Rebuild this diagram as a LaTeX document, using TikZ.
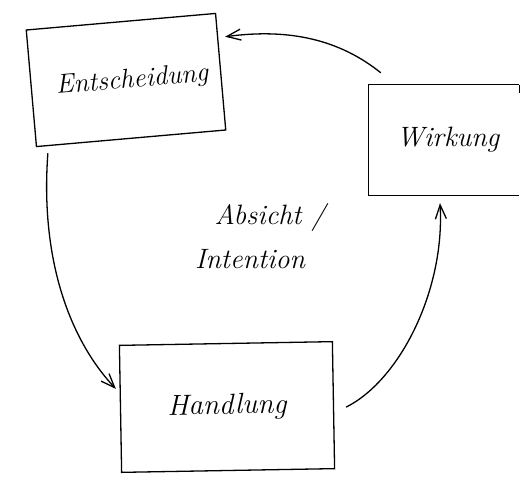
\documentclass[tikz,border=0pt]{standalone}
\usetikzlibrary{arrows.meta,calc}
\begin{document}
\begin{tikzpicture}[x=1pt,y=-1pt,
  hand/.style={line width=1.3pt,black},
  boxnode/.style={rectangle,draw,line width=1.3pt,inner sep=0pt,font=\fontsize{27}{30}\selectfont\itshape},
  plainbox/.style={rectangle,inner sep=0pt,font=\fontsize{28}{30}\selectfont\itshape},
  barb/.style={-{Straight Barb[length=14pt,width=11pt,line width=1.3pt]}},
  label/.style={font=\fontsize{28}{44}\selectfont\itshape,align=center,inner sep=0pt}]
\useasboundingbox (0,0) rectangle (520,477);
\node[boxnode,minimum width=190,minimum height=117,rotate=5,text depth=3pt] (ent) at (126,80) {\hspace*{12pt}Entscheidung};
\node[plainbox,minimum width=150,minimum height=110] (wirk) at (444,140) {\hspace*{8pt}Wirkung};
\draw[hand] (wirk.north east) -- (wirk.north west) -- (wirk.south west) -- (wirk.south east);
\draw[hand] (wirk.north east) -- ++(0,8);
\node[boxnode,minimum width=213,minimum height=127,rotate=1,font=\fontsize{29}{30}\selectfont\itshape] (hand) at (227,407) {Handlung\\[6pt]};
\node[label] (abs) at (250,236) {\hspace*{40pt}Absicht /\\Intention};
\draw[hand,barb] ($(wirk.north west)+(12,-12)$) .. controls (340,40) and (290,28) .. ($(ent.north east)+(9,24)$);
\draw[hand,barb] ($(ent.south west)+(12,6)$) .. controls (40,260) and (70,340) .. ($(hand.west)+(-4,-20)$);
\draw[hand,barb] ($(hand.east)+(12,2)$) .. controls (400,380) and (445,290) .. ($(wirk.south)+(-4,8)$);
\end{tikzpicture}
\end{document}
